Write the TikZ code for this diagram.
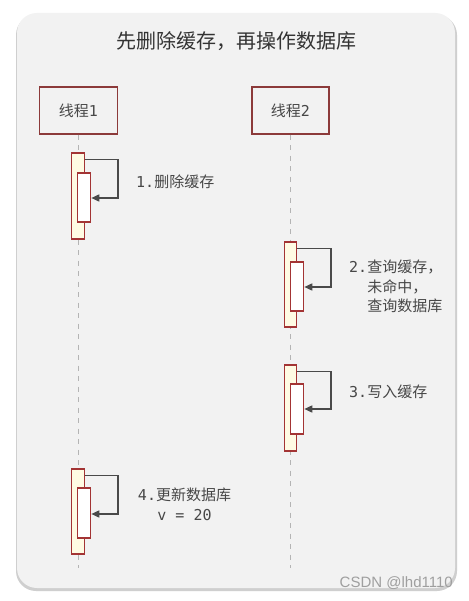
\documentclass[tikz,border=0pt]{standalone}
\usepackage{fontspec}
\newfontfamily\cjk{Noto Sans CJK SC}
\newfontfamily\mono{DejaVu Sans Mono}
\newfontfamily\wmfont{Liberation Sans}
\usetikzlibrary{arrows.meta}
\definecolor{cardbg}{HTML}{F2F2F2}
\definecolor{cardshadow}{HTML}{CFCFCF}
\definecolor{boxred}{HTML}{8C3A3A}
\definecolor{actred}{HTML}{A33434}
\definecolor{actfill}{HTML}{FFFBE3}
\definecolor{lifegray}{HTML}{B4B4B4}
\definecolor{arrgray}{HTML}{4A4A4A}
\definecolor{lblgray}{HTML}{474747}
\definecolor{titlegray}{HTML}{333333}
\tikzset{
  thread/.style={draw=boxred, line width=1.4pt, fill=cardbg, minimum width=78pt, minimum height=47pt, inner sep=0pt, font=\fontsize{15}{18}\selectfont\cjk, text=lblgray},
  outerbar/.style={draw=actred, line width=1.1pt, fill=actfill, minimum width=12.5pt, inner sep=0pt},
  innerbar/.style={draw=actred, line width=1.1pt, fill=white, minimum width=13.5pt, inner sep=0pt},
  lifeline/.style={draw=lifegray, line width=1pt, dash pattern=on 5pt off 5.5pt},
  selfarrow/.style={draw=arrgray, line width=1.6pt, -{Triangle[length=8pt,width=7pt]}},
  lbl/.style={font=\fontsize{15}{19.5}\selectfont\cjk, text=lblgray, inner sep=0pt},
}
\begin{document}
\begin{tikzpicture}[x=1pt,y=-1pt]
\useasboundingbox (0,0) rectangle (468,601);
\fill[white] (0,0) rectangle (468,601);
% card
\fill[cardshadow, rounded corners=20pt] (16,15) rectangle (457,591);
\fill[cardbg, rounded corners=20pt] (17,13) rectangle (455,588);
% title
\node[font=\fontsize{20}{24}\selectfont\cjk, text=titlegray, inner sep=0pt] (title) at (236,41) {先删除缓存，再操作数据库};
% threads
\node[thread] (t1) at (78.5,110.5) {线程\mono 1};
\node[thread, minimum width=77pt] (t2) at (290.5,110.5) {线程\mono 2};
\coordinate (e1) at (78.5,568);
\coordinate (e2) at (290.5,568);
\draw[lifeline] (t1.south) -- (e1);
\draw[lifeline] (t2.south) -- (e2);
% step 1
\node[outerbar, minimum height=86pt] (o1) at (78,196) {};
\node[innerbar, minimum height=49pt] (i1) at (84,197.5) {};
\coordinate (c1) at (118,198);
\draw[selfarrow] ([yshift=-7pt]o1.north east) -| (c1) -- (c1 -| i1.east);
\node[lbl, anchor=west] (l1) at (136,182) {\mono 1.\cjk 删除缓存};
% step 2
\node[outerbar, minimum height=85pt] (o2) at (290.5,284.5) {};
\node[innerbar, minimum height=49pt] (i2) at (297,286.5) {};
\coordinate (c2) at (331,287);
\draw[selfarrow] ([yshift=-7pt]o2.north east) -| (c2) -- (c2 -| i2.east);
\node[lbl, anchor=north west, align=left] (l2) at (349,260) {\mono 2.\cjk 查询缓存，\\\phantom{\mono 2.}\cjk 未命中，\\\phantom{\mono 2.}\cjk 查询数据库};
% step 3
\node[outerbar, minimum height=86pt] (o3) at (290.5,408) {};
\node[innerbar, minimum height=50pt] (i3) at (297,409) {};
\coordinate (c3) at (331,409);
\draw[selfarrow] ([yshift=-7pt]o3.north east) -| (c3) -- (c3 -| i3.east);
\node[lbl, anchor=west] (l3) at (349,392) {\mono 3.\cjk 写入缓存};
% step 4
\node[outerbar, minimum height=85pt] (o4) at (78,511.5) {};
\node[innerbar, minimum height=50pt] (i4) at (84,513) {};
\coordinate (c4) at (118,514);
\draw[selfarrow] ([yshift=-7pt]o4.north east) -| (c4) -- (c4 -| i4.east);
\node[lbl, anchor=north, align=center] (l4) at (184.5,488) {\mono 4.\cjk 更新数据库\\\mono v = 20};
% watermark
\node[font=\fontsize{15}{18}\selectfont\wmfont, text=gray!75, anchor=east, inner sep=0pt] (wm) at (453,583) {CSDN @lhd1110};
\end{tikzpicture}
\end{document}
